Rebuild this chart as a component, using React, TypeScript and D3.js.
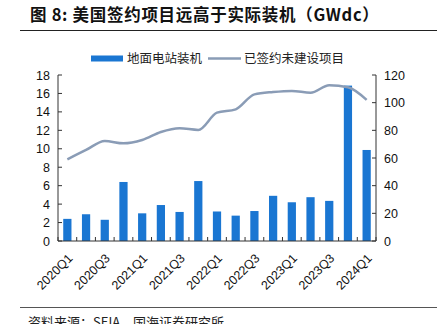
import React from "react";
import * as d3 from "d3";

const categories = ["2020Q1","2020Q2","2020Q3","2020Q4","2021Q1","2021Q2","2021Q3","2021Q4","2022Q1","2022Q2","2022Q3","2022Q4","2023Q1","2023Q2","2023Q3","2023Q4","2024Q1"];
const installed = [2.4,2.9,2.3,6.4,3.0,3.9,3.15,6.5,3.2,2.75,3.25,4.9,4.2,4.75,4.35,16.85,9.87];
const contracted = [59,65.8,72.3,70.6,73,78.8,81.5,80.3,92.8,95.2,106,107.7,108.5,107.2,112.6,111.1,102];
const leftTicks = [0,2,4,6,8,10,12,14,16,18];
const rightTicks = [0,20,40,60,80,100,120];

const W = 437, H = 324;
const L = 58, R = 376, T = 75, B = 241;
const BAR = "#1A76D2";
const LINE = "#8A9CB6";
const AX = "#333333";
const font = "'Liberation Sans', Arial, sans-serif";
const cjk = "'Noto Sans CJK SC', sans-serif";

export default function App() {
  const x = d3.scaleBand<string>().domain(categories).range([L, R]).paddingInner(0.56).paddingOuter(0.28);
  const yL = d3.scaleLinear().domain([0, 18]).range([B, T]);
  const yR = d3.scaleLinear().domain([0, 120]).range([B, T]);
  const step = (R - L) / categories.length;
  const cx = (c: string) => (x(c) as number) + x.bandwidth() / 2;
  const line = d3.line<number>().x((_, i) => cx(categories[i])).y(d => yR(d)).curve(d3.curveMonotoneX);
  return (
    <svg width={W} height={H} style={{ position: "absolute", left: 0, top: 0, background: "#fff" }}>
      <text x={30} y={21} fontFamily={cjk} fontWeight="bold" fontSize={16.5} letterSpacing={0.7} fill="#111">图 8: 美国签约项目远高于实际装机（GWdc）</text>
      <line x1={20} x2={437} y1={30.5} y2={30.5} stroke="#222" strokeWidth={1.2} />
      {/* legend */}
      <rect x={91} y={55.5} width={32} height={6} fill={BAR} />
      <text x={127} y={63} fontFamily={cjk} fontSize={12.5} fill="#222">地面电站装机</text>
      <line x1={208} x2={241} y1={58.5} y2={58.5} stroke={LINE} strokeWidth={2.5} />
      <text x={244} y={63} fontFamily={cjk} fontSize={12.5} fill="#222">已签约未建设项目</text>
      {/* bars */}
      {installed.map((v, i) => (
        <rect key={i} x={x(categories[i])} y={yL(v)} width={x.bandwidth()} height={B - yL(v)} fill={BAR} />
      ))}
      <path d={line(contracted) || ""} fill="none" stroke={LINE} strokeWidth={2.5} />
      {/* axes */}
      <line x1={L} x2={L} y1={T} y2={B} stroke={AX} strokeWidth={1} />
      <line x1={R} x2={R} y1={T} y2={B} stroke={AX} strokeWidth={1} />
      <line x1={L} x2={R} y1={B} y2={B} stroke={AX} strokeWidth={1} />
      {leftTicks.map(t => (
        <g key={t}>
          <line x1={L} x2={L + 4} y1={yL(t)} y2={yL(t)} stroke={AX} />
          <text x={50} y={yL(t) + 4.5} textAnchor="end" fontFamily={font} fontSize={12.5} fill="#111">{t}</text>
        </g>
      ))}
      {rightTicks.map(t => (
        <g key={t}>
          <line x1={R - 4} x2={R} y1={yR(t)} y2={yR(t)} stroke={AX} />
          <text x={384} y={yR(t) + 4.5} textAnchor="start" fontFamily={font} fontSize={12.5} fill="#111">{t}</text>
        </g>
      ))}
      {d3.range(categories.length + 1).map(i => (
        <line key={i} x1={L + i * step} x2={L + i * step} y1={B} y2={B - 4} stroke={AX} />
      ))}
      {categories.map((c, i) => i % 2 === 0 ? (
        <text key={c} transform={`translate(${cx(c) + 6},${259}) rotate(-45)`} textAnchor="end" fontFamily={font} fontSize={12.5} fill="#111">{c}</text>
      ) : null)}
      <line x1={20} x2={437} y1={307.5} y2={307.5} stroke="#555" strokeWidth={1.2} />
      <text x={28} y={327} fontFamily={cjk} fontSize={13} fill="#222">资料来源：SEIA，国海证券研究所</text>
    </svg>
  );
}
